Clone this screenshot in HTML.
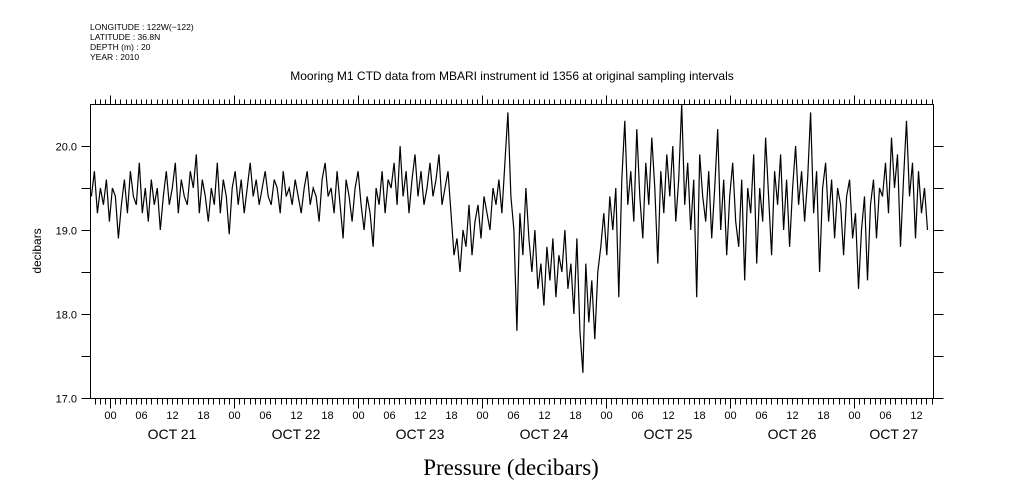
<!DOCTYPE html>
<html><head><meta charset="utf-8"><style>
body{margin:0;background:#fff;width:1009px;height:504px;overflow:hidden}
svg{display:block;font-family:"Liberation Sans",sans-serif}
</style></head><body>
<svg id="chart" width="1009" height="504" viewBox="0 0 1009 504">
<g font-size="8.5" fill="#000">
<text x="90" y="30">LONGITUDE : 122W(−122)</text>
<text x="90" y="40">LATITUDE : 36.8N</text>
<text x="90" y="50">DEPTH (m) : 20</text>
<text x="90" y="60">YEAR : 2010</text>
</g>
<text x="512" y="80" font-size="12" text-anchor="middle">Mooring M1 CTD data from MBARI instrument id 1356 at original sampling intervals</text>
<text x="511" y="475" font-size="23" text-anchor="middle" font-family="Liberation Serif, serif">Pressure (decibars)</text>
<text transform="translate(41,251) rotate(-90)" font-size="12" text-anchor="middle">decibars</text>
<g id="axes"></g>
<path id="line" fill="none" stroke="#000" stroke-width="1.2"/>
</svg>
<script>
const yTicks=[17.0,17.5,18.0,18.5,19.0,19.5,20.0];
const yTickLabels=["17.0","","18.0","","19.0","","20.0"];
const dayLabels=["OCT 21","OCT 22","OCT 23","OCT 24","OCT 25","OCT 26","OCT 27"];
const hourLabels=["00","06","12","18"];
const startHour=-3.6, stepHour=0.58;
const values=[
19.4,19.7,19.2,19.5,19.3,19.6,19.1,19.5,19.4,18.9,19.3,19.6,19.2,19.7,19.4,19.3,19.8,19.2,19.5,19.1,
19.6,19.3,19.5,19.0,19.4,19.7,19.3,19.5,19.8,19.2,19.6,19.4,19.3,19.7,19.5,19.9,19.2,19.6,19.4,19.1,
19.5,19.3,19.8,19.2,19.6,19.4,18.95,19.5,19.7,19.3,19.6,19.2,19.5,19.8,19.4,19.6,19.3,19.5,19.7,19.4,
19.3,19.6,19.5,19.2,19.7,19.4,19.5,19.3,19.6,19.4,19.2,19.5,19.7,19.3,19.5,19.4,19.1,19.6,19.8,19.4,
19.5,19.2,19.7,19.3,18.9,19.6,19.4,19.1,19.5,19.7,19.3,19.0,19.4,19.2,18.8,19.5,19.3,19.7,19.2,19.6,
19.5,19.8,19.3,20.0,19.4,19.7,19.2,19.6,19.9,19.4,19.7,19.3,19.5,19.8,19.4,19.6,19.9,19.3,19.5,19.7,
19.2,18.7,18.9,18.5,19.0,18.8,19.3,18.7,19.1,19.3,18.9,19.4,19.2,19.0,19.5,19.3,19.6,19.2,19.8,20.4,
19.4,19.0,17.8,19.2,18.7,19.5,18.9,18.5,19.0,18.3,18.6,18.1,18.8,18.4,18.9,18.2,18.7,18.5,19.0,18.3,
18.6,18.0,18.9,17.8,17.3,18.6,17.9,18.4,17.7,18.5,18.8,19.2,18.7,19.4,19.0,19.5,18.2,19.6,20.3,19.3,
19.7,19.1,20.2,19.4,18.9,19.8,19.3,20.1,19.5,18.6,19.7,19.2,19.9,19.4,20.0,19.1,19.6,20.5,19.3,19.8,
19.0,19.6,18.2,19.9,19.4,19.1,19.7,18.9,19.5,20.2,19.0,19.6,18.7,19.4,19.8,19.1,18.8,19.6,18.4,19.5,
19.2,19.9,18.6,19.5,19.1,20.1,19.4,18.7,19.7,19.3,19.9,19.0,19.6,18.8,19.5,20.0,19.3,19.7,19.1,19.6,
20.4,19.2,19.7,18.5,19.5,19.8,19.1,19.6,18.9,19.5,19.3,18.7,19.4,19.6,18.9,19.2,18.3,19.0,19.4,18.4,
19.3,19.6,18.9,19.5,19.4,19.8,19.2,20.1,19.5,19.9,18.8,19.6,20.3,19.4,19.8,18.9,19.7,19.2,19.5,19.0
];
const L=90.5,R=933.5,T=104.5,B=398.5;
const xs=h=>110+h*124/24;
const ys=v=>398-(v-17)*84;
const NS="http://www.w3.org/2000/svg";
const ax=document.getElementById('axes');
function mk(tag,attrs,parent){const e=document.createElementNS(NS,tag);for(const k in attrs)e.setAttribute(k,attrs[k]);(parent||ax).appendChild(e);return e;}
let d=`M${L},${T}H${R}V${B}H${L}Z`;
yTicks.forEach((v,i)=>{const y=Math.round(ys(v))+0.5;d+=`M${L-9},${y}H${L}M${R},${y}H${R+10}`;
 if(yTickLabels[i]){const t=mk('text',{x:77,y:y+4,'font-size':11,'text-anchor':'end'});t.textContent=yTickLabels[i];
 
 }});
for(let h=-3;h<=159;h++){const x=Math.round(xs(h))+0.5;if(x<L||x>R)continue;
 const big=h%24===0;d+=`M${x},${T}V${T-(big?9:5)}M${x},${B}V${B+(big?10:6)}`;
 if(h%6===0){const t=mk('text',{x:x,y:419,'font-size':11,'text-anchor':'middle'});t.textContent=hourLabels[((h/6)%4+4)%4];
 
 }}
dayLabels.forEach((s,i)=>{const s0=xs(i*24),s1=Math.min(xs(i*24+24),R);const t=mk('text',{x:(s0+s1)/2,y:439,'font-size':14,'text-anchor':'middle'});t.textContent=s;
 
 });
const p=mk('path',{d:d,fill:'none',stroke:'#000','stroke-width':1});


document.getElementById('line').setAttribute('d',values.map((v,i)=>(i?'L':'M')+xs(startHour+i*stepHour).toFixed(1)+','+ys(v).toFixed(1)).join(''));
</script>
</body></html>
